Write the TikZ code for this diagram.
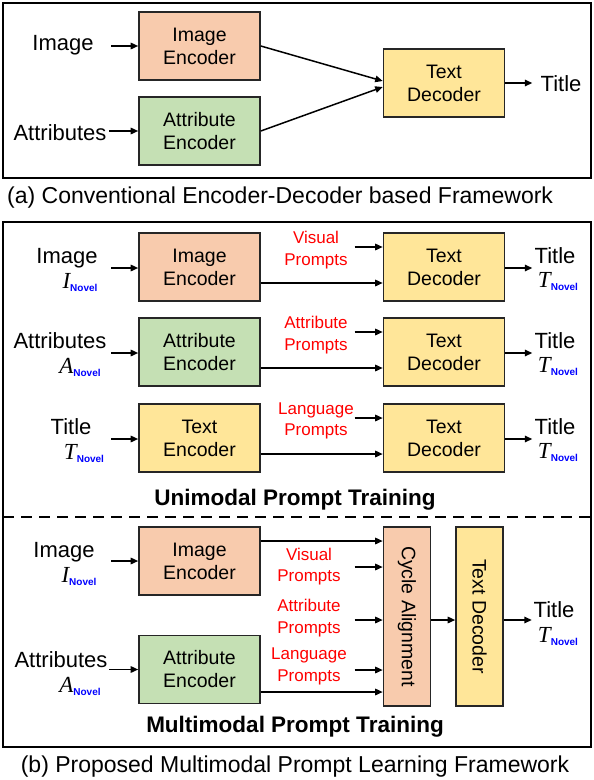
\documentclass[tikz,border=0pt]{standalone}
\usepackage{fontspec}
\setmainfont{Liberation Sans}
\newfontfamily\symfont{Liberation Serif}
\usetikzlibrary{positioning,arrows.meta,calc}
\definecolor{encfill}{HTML}{F8CBAD}
\definecolor{attfill}{HTML}{C5E0B4}
\definecolor{txtfill}{HTML}{FFE699}
\definecolor{boxline}{HTML}{262626}
\definecolor{novel}{HTML}{0000FF}
\newcommand{\nov}[1]{{\fontsize{23}{23}\selectfont\symfont\itshape #1}\raisebox{-3pt}{\fontsize{10}{10}\selectfont\bfseries\color{novel}Novel}}
\tikzset{
  box/.style={draw=boxline, line width=1.6pt, minimum width=121pt, minimum height=68pt,
    inner sep=0pt, align=center, font=\fontsize{19.5}{23}\selectfont},
  vbox/.style={box, minimum width=179pt, minimum height=47pt, rotate=-90},
  lbl/.style={inner sep=0pt, font=\fontsize{22}{24}\selectfont},
  prm/.style={inner sep=0pt, text=red, align=center, font=\fontsize{17}{21.7}\selectfont},
  hdr/.style={inner sep=0pt, font=\fontsize{22.5}{24}\selectfont\bfseries},
  captxt/.style={inner sep=0pt, font=\fontsize{23}{24}\selectfont},
  arr/.style={-{Triangle[length=7.5pt,width=6.5pt]}, line width=1.5pt},
  frame/.style={line width=1.8pt},
}
\begin{document}
\begin{tikzpicture}[x=1pt,y=-1pt]
  \useasboundingbox (0,0) rectangle (594,780);

  % (a) conventional framework
  \draw[frame] (3,3) rectangle (591,178);
  \node[box, fill=encfill] (ie0) at (199.5,46) {Image\\Encoder};
  \node[box, fill=attfill] (ae0) at (199.5,131) {Attribute\\Encoder};
  \node[box, fill=txtfill] (td0) at (444,83) {Text\\Decoder};
  \node[lbl] (img0) at (63,45) {Image};
  \node[lbl] (att0) at (60,133) {Attributes};
  \node[lbl] (tit0) at (561,84) {Title};
  \draw[arr] ([xshift=-27pt]ie0.west) -- (ie0.west);
  \draw[arr] ([xshift=-29pt]ae0.west) -- (ae0.west);
  \draw[arr] (ie0.east) -- ([yshift=2pt]td0.west);
  \draw[arr] (ae0.east) -- ([yshift=-4pt]td0.west);
  \draw[arr] (td0.east) -- ([xshift=27pt]td0.east);
  \node[captxt, anchor=west] (capa) at (7,198) {(a) Conventional Encoder-Decoder based Framework};

  % (b) proposed framework
  \draw[frame] (3,222) rectangle (591,747);

  % unimodal rows: row/encoder/fill/prompt/input/x of input/symbol/x of symbol/y
  \foreach \r/\enc/\fl/\pr/\inp/\xi/\sym/\xs/\yy in {
      1/Image/encfill/Visual/Image/67/I/80/267,
      2/Attribute/attfill/Attribute/Attributes/60/A/80/352,
      3/Text/txtfill/Language/Title/71/T/84/438} {
    \node[box, fill=\fl] (en\r) at (199.5,\yy) {\enc\\Encoder};
    \node[box, fill=txtfill] (td\r) at (444,\yy) {Text\\Decoder};
    \node[prm] (pr\r) at (316,\yy-17) {\pr\\Prompts};
    \node[lbl, anchor=base] (in\r) at (\xi,\yy-4) {\inp};
    \node[lbl, anchor=base] (sym\r) at (\xs,\yy+21) {\nov{\sym}};
    \node[lbl, anchor=base] (ot\r) at (555,\yy-4) {Title};
    \node[lbl, anchor=base] (otn\r) at (558,\yy+20) {\nov{T}};
    \draw[arr] ([xshift=-27pt,yshift=-1pt]en\r.west) -- ([yshift=-1pt]en\r.west);
    \draw[arr] ([xshift=-28pt,yshift=20pt]td\r.west) -- ([yshift=20pt]td\r.west);
    \draw[arr] ([yshift=-16pt]en\r.east) -- ([yshift=-16pt]td\r.west);
    \draw[arr] ([yshift=-1pt]td\r.east) -- ([xshift=27pt,yshift=-1pt]td\r.east);
  }
  \node[hdr] (uni) at (295,500) {Unimodal Prompt Training};

  \draw[frame, dash pattern=on 11pt off 7pt] (3,517) -- (591,517);

  % multimodal part
  \node[box, fill=encfill] (ie4) at (199.5,561) {Image\\Encoder};
  \node[box, fill=attfill] (ae4) at (199.5,669.5) {Attribute\\Encoder};
  \node[vbox, fill=encfill] (ca) at (407,616.5) {Cycle Alignment};
  \node[vbox, fill=txtfill] (td4) at (479.5,616.5) {Text Decoder};
  \node[lbl, anchor=base] (img4) at (64,557) {Image};
  \node[lbl, anchor=base] (imgn4) at (79,582) {\nov{I}};
  \node[lbl, anchor=base] (att4) at (61,667) {Attributes};
  \node[lbl, anchor=base] (attn4) at (80,692) {\nov{A}};
  \node[prm] (pv4) at (309,566.5) {Visual\\Prompts};
  \node[prm] (pa4) at (309,618) {Attribute\\Prompts};
  \node[prm] (pl4) at (309,666.5) {Language\\Prompts};
  \node[lbl, anchor=base] (tit4) at (554,617) {Title};
  \node[lbl, anchor=base] (titn4) at (558,642) {\nov{T}};
  \draw[arr] ([xshift=-27pt]ie4.west) -- (ie4.west);
  \draw[arr] ([xshift=-29pt]ae4.west) -- (ae4.west);
  \draw[arr] ($(ie4.east)+(0,-20)$) -- ($(ie4.east -| ca.south)+(0,-20)$);
  \draw[arr] ($(ae4.east)+(0,22.5)$) -- ($(ae4.east -| ca.south)+(0,22.5)$);
  \draw[arr] ($(ca.south |- pv4)+(-28,0.5)$) -- ($(ca.south |- pv4)+(0,0.5)$);
  \draw[arr] ($(ca.south |- pa4)+(-28,2)$) -- ($(ca.south |- pa4)+(0,2)$);
  \draw[arr] ($(ca.south |- pl4)+(-28,3.5)$) -- ($(ca.south |- pl4)+(0,3.5)$);
  \draw[arr] ($(ca.north)+(0,3.5)$) -- ($(td4.south)+(0,3.5)$);
  \draw[arr] ($(td4.north)+(0,3.5)$) -- ($(td4.north)+(28,3.5)$);
  \node[hdr] (multi) at (295,727) {Multimodal Prompt Training};
  \node[captxt] (capb) at (295,767) {(b) Proposed Multimodal Prompt Learning Framework};
\end{tikzpicture}
\end{document}
